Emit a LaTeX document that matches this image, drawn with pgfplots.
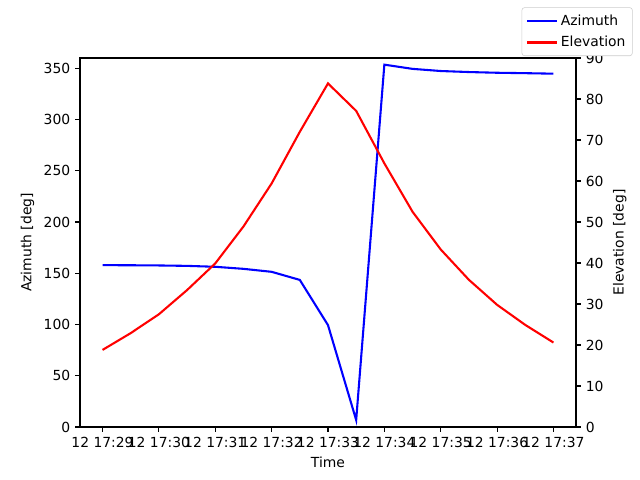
\documentclass[border=0pt]{standalone}
\usepackage{pgfplots}
\pgfplotsset{compat=1.18}
\usepackage{fontspec}
\setmainfont{DejaVu Sans}
\begin{document}
\begin{tikzpicture}[font=\fontsize{10}{12}\selectfont]
\pgfplotsset{
  common/.style={
    scale only axis, width=357.12pt, height=265.68pt,
    xmin=-0.4, xmax=8.4,
    tick align=outside,
    major tick length=3.5pt,
    /pgf/number format/assume math mode=true,
    every tick/.style={black, line width=0.8pt},
    axis line style={line width=0.8pt},
    clip=true,
  }
}
\begin{axis}[common, name=main,
  ymin=0, ymax=360,
  xtick pos=bottom, ytick pos=left,
  ytick={0,50,100,150,200,250,300,350},
  xtick={0,1,2,3,4,5,6,7,8},
  xticklabels={12 17:29,12 17:30,12 17:31,12 17:32,12 17:33,12 17:34,12 17:35,12 17:36,12 17:37},
  xlabel={Time}, ylabel={Azimuth [deg]},
]
\addplot[blue, line width=1.5pt] coordinates {
(0,157.9) (0.5,157.8) (1,157.6) (1.5,157.2) (2,156.3) (2.5,154.3) (3,151.4) (3.5,143.5) (4,99.4) (4.5,6.8) (5,353.5) (5.5,349.4) (6,347.3) (6.5,346.3) (7,345.6) (7.5,345.2) (8,344.7)
};
\end{axis}
\begin{axis}[common,
  ymin=0, ymax=90,
  ytick={0,10,20,30,40,50,60,70,80,90},
  axis y line*=right, axis x line=none,
  ylabel={Elevation [deg]},
  legend style={at={(1.1143,1.1374)}, anchor=north east, draw=black!20, rounded corners=2pt, font=\fontsize{10}{12}\selectfont, row sep=2.5pt, inner xsep=3pt, inner ysep=3pt},
  legend cell align=left,
  legend image code/.code={\draw[#1] (0cm,0cm) -- (0.76cm,0cm);},
]
\addlegendimage{blue, line width=1.5pt}
\addlegendentry{Azimuth}
\addplot[red, line width=1.5pt] coordinates {
(0,18.8) (0.5,22.9) (1,27.5) (1.5,33.4) (2,39.9) (2.5,48.9) (3,59.4) (3.5,72.0) (4,83.8) (4.5,77.1) (5,64.3) (5.5,52.5) (6,43.3) (6.5,35.9) (7,29.8) (7.5,24.9) (8,20.6)
};
\addlegendentry{Elevation}
\end{axis}
\path[use as bounding box] ([shift={(-57.6pt,-38.16pt)}]main.south west) rectangle ([shift={(403.2pt,307.44pt)}]main.south west);
\end{tikzpicture}
\end{document}
